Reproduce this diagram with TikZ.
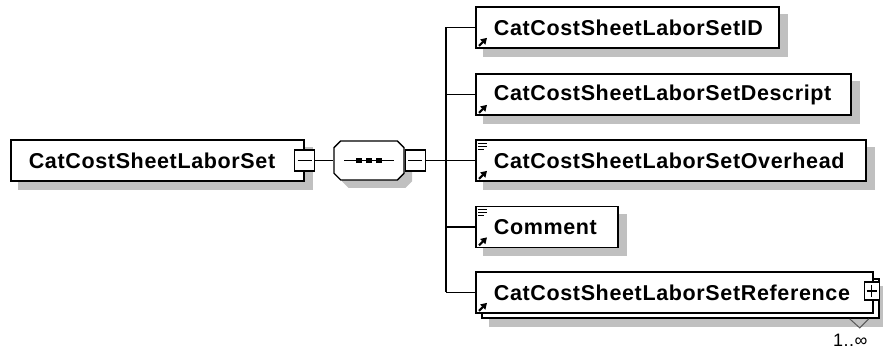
\documentclass[tikz,border=0pt]{standalone}
\usepackage{fontspec}
\newfontfamily\xsdfont[LetterSpace=3]{Liberation Sans}
\usetikzlibrary{positioning,shapes.misc,calc,arrows.meta,backgrounds}
\definecolor{shadowgray}{RGB}{192,192,192}
\tikzset{
  lbl/.style={font=\fontsize{21.5pt}{24pt}\xsdfont\bfseries},
  elem/.style={draw, line width=1.7pt, fill=white, anchor=west, minimum height=41pt,
    inner xsep=18pt, inner ysep=0pt, align=left, lbl},
  octa/.style={chamfered rectangle, chamfered rectangle xsep=9pt, chamfered rectangle ysep=9pt,
    minimum width=70pt, minimum height=39pt, line width=1.3pt},
  tog/.style={draw, line width=1.3pt, fill=white, minimum width=20pt, minimum height=21pt, inner sep=0pt},
  wire/.style={line width=1.4pt},
}
% small marks inside the element boxes
\newcommand\refmark[1]{\draw[line width=2pt,-{Triangle[length=6pt,width=7pt]}]
  ($(#1.south west)+(4,-3)$) -- ++(8,-8);}
\newcommand\textmark[1]{\draw[line width=1.2pt]
  ($(#1.north west)+(3,4)$) -- ++(9,0) ++(-9,3) -- ++(9,0) ++(-9,3) -- ++(6,0);}
% grey shadow behind a box
\newcommand\boxshadow[1]{\fill[shadowgray] ($(#1.north west)+(8,8)$) rectangle ($(#1.south east)+(8,8)$);}
\begin{document}
\begin{tikzpicture}[x=1pt,y=-1pt]
    \useasboundingbox (0,0) rectangle (883,352);

    % root element and its sequence
    \node[elem, text width=257pt] (root) at (10,160.5) {CatCostSheetLaborSet};
    \node[tog] (rootminus) at (root.east) {};
    \draw[wire] ($(rootminus.center)+(-7,0)$) -- ++(14,0);

    \node[octa, draw, fill=white] (seq) at (369,160.5) {};
    \draw[wire] ($(seq.center)+(-25,0)$) -- ++(50,0);
    \foreach \d in {-10,0,10}
      \fill ($(seq.center)+(\d,0)$) +(-2.6,-2.6) rectangle +(2.6,2.6);
    \node[tog, anchor=west] (seqminus) at (seq.east) {};
    \draw[wire] ($(seqminus.center)+(-7,0)$) -- ++(14,0);

    % child elements
    \node[elem, text width=267pt] (c1) at (475,27.5) {CatCostSheetLaborSetID};
    \node[elem, text width=339pt] (c2) at (475,94.5) {CatCostSheetLaborSetDescript};
    \node[elem, text width=354pt] (c3) at (475,160.5) {CatCostSheetLaborSetOverhead};
    \node[elem, text width=106pt] (c4) at (475,227) {Comment};
    \node[draw, line width=1.7pt, fill=white, anchor=west, minimum width=397pt, minimum height=39pt]
      (c5b) at (481,298.5) {};
    \node[elem, text width=361pt] (c5) at (475,292.5) {CatCostSheetLaborSetReference};
    \node[tog, minimum width=15pt, minimum height=18pt] (c5plus) at ($(c5.east)+(-2,-1.5)$) {};
    \draw[line width=1.2pt] ($(c5plus.center)+(-5,0)$) -- ++(10,0)
      ($(c5plus.center)+(0,-6)$) -- ++(0,12);
    \draw[line width=1pt, gray!70!black] ($(c5b.south east)+(-30,0)$) -- ++(10,9) -- ++(9,-9);
    \node[font=\fontsize{18pt}{20pt}\xsdfont, anchor=north east, inner sep=0pt] (mult)
      at ($(c5b.south east)+(-12,15)$) {1..∞};

    \foreach \c in {c1,c2,c3,c4,c5} {\refmark{\c}}
    \textmark{c3}
    \textmark{c4}

    % shadows
    \begin{scope}[on background layer]
      \foreach \c in {root,c1,c2,c3,c4,c5b} {\boxshadow{\c}}
      \node[octa, fill=shadowgray] at ($(seq.center)+(8,8)$) {};
    \end{scope}

    % connectors
    \coordinate (bus) at (446,160.5);
    \draw[wire] (rootminus.east) -- (seq.west);
    \draw[wire] (seqminus.east) -- (bus);
    \draw[wire] (bus |- c1.west) -- (bus |- c5.west);
    \foreach \c in {c1,c2,c3,c4,c5}
      \draw[wire] (bus |- \c.west) -- (\c.west);
\end{tikzpicture}
\end{document}
